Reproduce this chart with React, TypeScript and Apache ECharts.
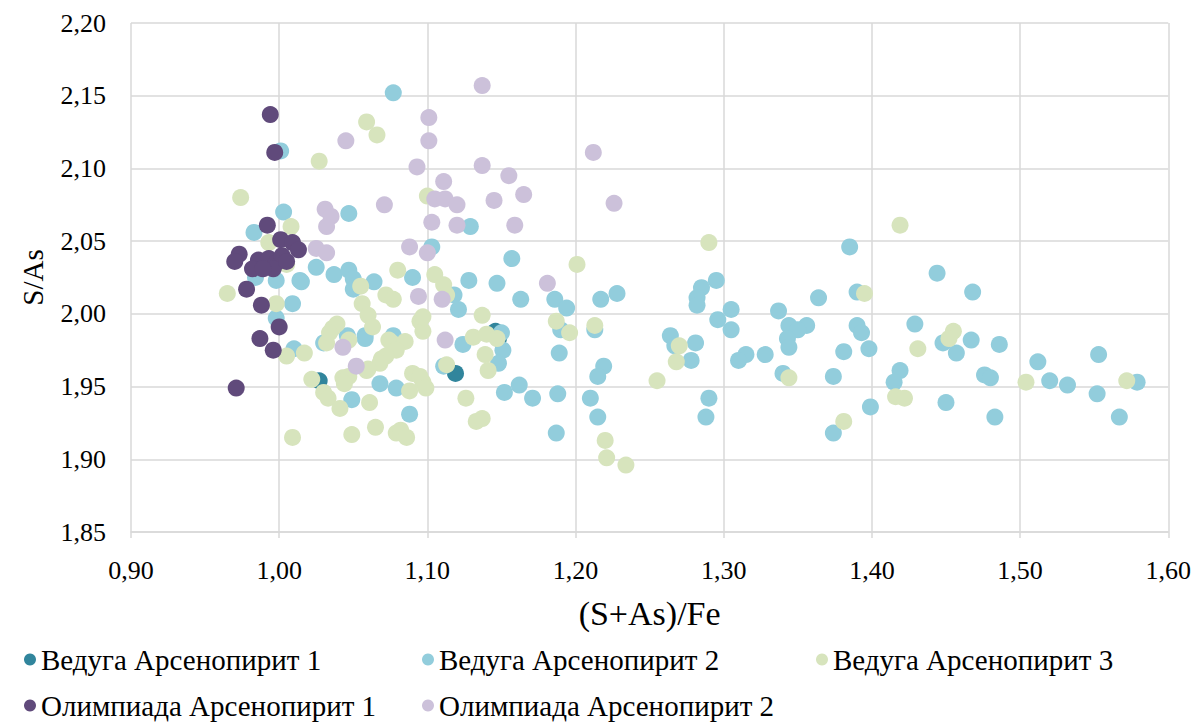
import React, { useEffect, useRef } from "react";
import * as echarts from "echarts";

const seriesNames = [
  "Ведуга Арсенопирит 1",
  "Ведуга Арсенопирит 2",
  "Ведуга Арсенопирит 3",
  "Олимпиада Арсенопирит 1",
  "Олимпиада Арсенопирит 2",
];
const seriesColors = ["#31859C", "#92CDDC", "#D7E4BD", "#604A7B", "#CCC1DA"];

const xTitle = "(S+As)/Fe";
const yTitle = "S/As";

// Ведуга Арсенопирит 1
const vedu1: number[][] = [
  [1.027, 1.954], [1.119, 1.959], [1.146, 1.988], [1.148, 1.983],
];

// Ведуга Арсенопирит 2
const vedu2: number[][] = [
  [1.077, 2.152], [1.001, 2.112], [1.003, 2.070], [1.047, 2.069], [0.983, 2.056],
  [1.025, 2.032], [1.037, 2.027], [1.014, 2.023], [0.984, 2.025], [0.998, 2.023],
  [1.009, 2.007], [0.998, 1.997], [1.015, 2.022], [1.047, 2.030], [1.050, 2.024],
  [1.064, 2.022], [1.050, 2.017], [1.010, 1.976], [1.030, 1.980], [1.046, 1.985],
  [1.058, 1.985], [1.077, 1.985], [1.068, 1.952], [1.079, 1.949], [1.049, 1.941],
  [1.090, 2.025], [1.058, 1.983], [1.088, 1.931], [1.129, 2.060], [1.103, 2.046],
  [1.157, 2.038], [1.128, 2.023], [1.147, 2.021], [1.163, 2.010], [1.186, 2.010],
  [1.194, 2.004], [1.118, 2.013], [1.121, 2.003], [1.124, 1.979], [1.150, 1.987],
  [1.151, 1.975], [1.148, 1.966], [1.111, 1.964], [1.189, 1.973], [1.190, 1.989],
  [1.213, 1.989], [1.217, 2.010], [1.228, 2.014], [1.152, 1.946], [1.162, 1.951],
  [1.171, 1.942], [1.188, 1.945], [1.210, 1.942], [1.219, 1.964], [1.215, 1.957],
  [1.215, 1.929], [1.187, 1.918],
  [1.385, 2.046], [1.295, 2.023], [1.285, 2.018], [1.282, 2.011], [1.282, 2.006],
  [1.364, 2.011], [1.390, 2.015], [1.305, 2.003], [1.296, 1.996], [1.305, 1.989],
  [1.337, 2.002], [1.344, 1.992], [1.356, 1.992], [1.350, 1.989], [1.343, 1.983],
  [1.344, 1.977], [1.390, 1.992], [1.393, 1.987], [1.264, 1.985], [1.281, 1.980],
  [1.267, 1.978], [1.278, 1.968], [1.315, 1.972], [1.310, 1.968], [1.328, 1.972],
  [1.381, 1.974], [1.398, 1.976], [1.340, 1.959], [1.374, 1.957], [1.290, 1.942],
  [1.288, 1.929], [1.399, 1.936], [1.374, 1.918],
  [1.444, 2.028], [1.468, 2.015], [1.429, 1.993], [1.448, 1.980], [1.457, 1.973],
  [1.467, 1.982], [1.486, 1.979], [1.419, 1.961], [1.415, 1.953], [1.476, 1.958],
  [1.480, 1.956], [1.450, 1.939], [1.483, 1.929], [1.512, 1.967], [1.520, 1.954],
  [1.532, 1.951], [1.553, 1.972], [1.552, 1.945], [1.579, 1.953], [1.567, 1.929],
];

// Ведуга Арсенопирит 3
const vedu3: number[][] = [
  [1.059, 2.132], [1.066, 2.123], [1.027, 2.105], [0.974, 2.080], [1.008, 2.060],
  [0.993, 2.049], [1.005, 2.034], [1.080, 2.030], [1.100, 2.081], [0.965, 2.014],
  [0.998, 2.007], [1.036, 1.990], [1.005, 1.971], [1.017, 1.973], [1.032, 1.980],
  [1.047, 1.982], [1.055, 2.019], [1.056, 2.007], [1.060, 1.999], [1.063, 1.991],
  [1.072, 2.013], [1.077, 2.010], [1.076, 1.980], [1.069, 1.969], [1.059, 1.961],
  [1.043, 1.956], [1.022, 1.955], [1.030, 1.946], [1.033, 1.942], [1.041, 1.935],
  [1.061, 1.939], [1.009, 1.915], [1.049, 1.917], [1.065, 1.922], [1.079, 1.918],
  [1.039, 1.993], [1.034, 1.987], [1.074, 1.982], [1.085, 1.981], [1.079, 1.975],
  [1.072, 1.971], [1.068, 1.966], [1.060, 1.962], [1.047, 1.957], [1.044, 1.952],
  [1.095, 1.995], [1.097, 1.988], [1.090, 1.959], [1.088, 1.947], [1.097, 1.953],
  [1.082, 1.920], [1.086, 1.915], [1.105, 2.027], [1.111, 2.020], [1.113, 2.013],
  [1.097, 1.998], [1.137, 1.999], [1.131, 1.984], [1.140, 1.986], [1.147, 1.983],
  [1.139, 1.972], [1.141, 1.961], [1.113, 1.965], [1.095, 1.957], [1.099, 1.949],
  [1.126, 1.942], [1.133, 1.926], [1.137, 1.928], [1.201, 2.034], [1.187, 1.995],
  [1.196, 1.987], [1.213, 1.992], [1.220, 1.913], [1.221, 1.901], [1.234, 1.896],
  [1.290, 2.049], [1.270, 1.978], [1.268, 1.967], [1.255, 1.954], [1.344, 1.956],
  [1.395, 2.014], [1.381, 1.926], [1.419, 2.061], [1.455, 1.988], [1.452, 1.983],
  [1.431, 1.976], [1.416, 1.943], [1.422, 1.942], [1.504, 1.953], [1.572, 1.954],
];

// Олимпиада Арсенопирит 1
const olymp1: number[][] = [
  [0.994, 2.137], [0.997, 2.111], [0.992, 2.061], [1.001, 2.051], [1.009, 2.049],
  [1.013, 2.044], [0.973, 2.041], [0.970, 2.036], [0.986, 2.037], [0.982, 2.031],
  [0.993, 2.038], [0.998, 2.035], [1.002, 2.040], [0.996, 2.031], [1.005, 2.036],
  [0.989, 2.031], [0.978, 2.017], [0.988, 2.006], [1.000, 1.991], [0.987, 1.983],
  [0.996, 1.975], [0.971, 1.949],
];

// Олимпиада Арсенопирит 2
const olymp2: number[][] = [
  [1.137, 2.157], [1.101, 2.135], [1.101, 2.119], [1.093, 2.101], [1.137, 2.102],
  [1.155, 2.095], [1.111, 2.091], [1.071, 2.075], [1.105, 2.079], [1.112, 2.079],
  [1.120, 2.075], [1.145, 2.078], [1.165, 2.082], [1.212, 2.111], [1.226, 2.076],
  [1.103, 2.063], [1.120, 2.061], [1.159, 2.061], [1.088, 2.046], [1.100, 2.042],
  [1.045, 2.119], [1.031, 2.072], [1.035, 2.067], [1.032, 2.060], [1.025, 2.045],
  [1.032, 2.042], [1.094, 2.012], [1.110, 2.010], [1.181, 2.021], [1.112, 1.982],
  [1.043, 1.977], [1.052, 1.964],
];

const allData = [vedu1, vedu2, vedu3, olymp1, olymp2];

const FONT = "'Liberation Serif', 'Times New Roman', serif";
const fmt = (v: number) => v.toFixed(2).replace(".", ",");

export default function App() {
  const ref = useRef<HTMLDivElement>(null);
  useEffect(() => {
    if (!ref.current) return;
    const chart = echarts.init(ref.current, undefined, { renderer: "svg" });
    const legendPos = [
      { left: 16, top: 637 },
      { left: 414, top: 637 },
      { left: 808, top: 637 },
      { left: 16, top: 683 },
      { left: 414, top: 683 },
    ];
    chart.setOption({
      animation: false,
      backgroundColor: "#ffffff",
      textStyle: { fontFamily: FONT },
      grid: { left: 123, right: 21, top: 15, bottom: 190, containLabel: false },
      legend: seriesNames.map((n, i) => ({
        data: [n],
        left: legendPos[i].left,
        top: legendPos[i].top,
        padding: 0,
        icon: "circle",
        itemWidth: 12,
        itemHeight: 12,
        itemGap: 5,
        selectedMode: false,
        textStyle: { fontFamily: FONT, fontSize: 29, color: "#000" },
      })),
      xAxis: {
        type: "value",
        min: 0.9,
        max: 1.6,
        interval: 0.1,
        name: xTitle,
        nameLocation: "middle",
        nameGap: 64,
        nameTextStyle: { fontFamily: FONT, fontSize: 34, color: "#000" },
        axisLine: { show: true, onZero: false, lineStyle: { color: "#d9d9d9", width: 1.5 } },
        axisTick: { show: true, length: 6, lineStyle: { color: "#d9d9d9", width: 1.5 } },
        axisLabel: { fontFamily: FONT, fontSize: 26, color: "#000", margin: 25, formatter: fmt },
        splitLine: { show: true, lineStyle: { color: "#d9d9d9", width: 1.5 } },
      },
      yAxis: {
        type: "value",
        min: 1.85,
        max: 2.2,
        interval: 0.05,
        name: yTitle,
        nameLocation: "middle",
        nameGap: 84,
        nameRotate: 90,
        nameTextStyle: { fontFamily: FONT, fontSize: 29, color: "#000" },
        axisLine: { show: false },
        axisTick: { show: false },
        axisLabel: { fontFamily: FONT, fontSize: 26, color: "#000", margin: 25, formatter: fmt },
        splitLine: { show: true, lineStyle: { color: "#d9d9d9", width: 1.5 } },
      },
      series: seriesNames.map((n, i) => ({
        name: n,
        type: "scatter",
        data: allData[i],
        symbol: "circle",
        symbolSize: 17,
        itemStyle: { color: seriesColors[i], opacity: 1 },
        emphasis: { disabled: true },
      })),
    });
    return () => chart.dispose();
  }, []);
  return <div ref={ref} style={{ width: 1186, height: 714 }} />;
}
